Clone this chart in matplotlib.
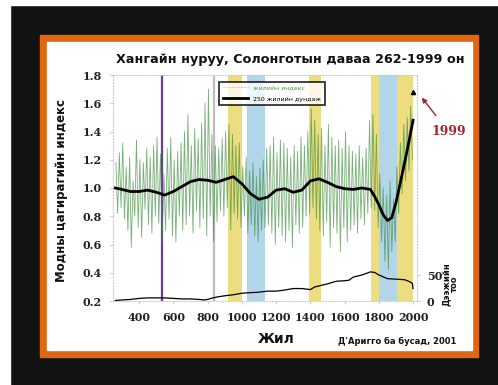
import numpy as np
import matplotlib
matplotlib.use('Agg')
import matplotlib.pyplot as plt
from matplotlib.patches import Rectangle
from matplotlib.lines import Line2D

# annual ring-width index, read every 10 years (265..1995)
index_years = np.arange(265, 2000, 10)
index_values = [
    1.18, 0.82, 1.25, 0.86, 1.32, 0.78, 1.15, 0.70, 1.22, 0.58,
    1.05, 0.80, 1.34, 0.72, 1.20, 0.65, 1.18, 0.85, 1.28, 0.74,
    1.22, 0.68, 1.30, 0.80, 1.36, 0.75, 1.24, 0.62, 1.10, 0.70,
    1.28, 0.78, 1.36, 0.66, 1.20, 0.62, 1.26, 0.80, 1.32, 0.70,
    1.40, 0.74, 1.52, 0.80, 1.30, 0.68, 1.42, 0.84, 1.35, 0.72,
    1.46, 0.78, 1.60, 0.66, 1.70, 0.80, 1.38, 0.62, 1.30, 0.76,
    1.28, 0.84, 1.35, 0.80, 1.40, 0.86, 1.45, 0.70, 1.38, 0.82,
    1.30, 0.78, 1.32, 0.72, 1.15, 0.80, 1.22, 0.68, 1.12, 0.74,
    1.18, 0.66, 1.08, 0.62, 1.14, 0.70, 1.20, 0.72, 1.28, 0.74,
    1.30, 0.68, 1.36, 0.60, 1.25, 0.72, 1.34, 0.66, 1.32, 0.62,
    1.28, 0.70, 1.22, 0.58, 1.30, 0.74, 1.26, 0.68, 1.36, 0.72,
    1.30, 0.80, 1.40, 0.82, 1.56, 0.86, 1.48, 0.78, 1.38, 0.70,
    1.42, 0.66, 1.30, 0.76, 1.45, 0.58, 1.36, 0.72, 1.30, 0.68,
    1.34, 0.55, 1.28, 0.72, 1.40, 0.62, 1.30, 0.70, 1.26, 0.74,
    1.24, 0.68, 1.30, 0.78, 1.22, 0.74, 1.28, 0.82, 1.48, 0.86,
    1.52, 0.84, 1.38, 0.72, 1.10, 0.62, 1.00, 0.48, 0.95, 0.42,
    1.05, 0.55, 0.92, 0.62, 1.15, 0.82, 1.32, 0.96, 1.45, 1.05,
    1.50, 1.12, 1.58, 1.20,
]

# 250-year smoothing
mean_years = [262, 300, 350, 400, 450, 500, 550, 600, 650, 700, 750, 800, 850,
              900, 950, 1000, 1050, 1100, 1150, 1200, 1250, 1300, 1350, 1400,
              1450, 1500, 1550, 1600, 1650, 1700, 1750, 1775, 1800, 1825, 1850,
              1875, 1900, 1925, 1950, 1975, 1999]
mean_values = [1.00, 0.99, 0.975, 0.975, 0.985, 0.97, 0.95, 0.975, 1.01, 1.045,
               1.06, 1.055, 1.04, 1.06, 1.08, 1.03, 0.96, 0.92, 0.935, 0.985,
               0.995, 0.97, 0.985, 1.05, 1.065, 1.04, 1.01, 0.995, 0.99, 1.0,
               0.99, 0.94, 0.88, 0.81, 0.77, 0.79, 0.90, 1.04, 1.18, 1.33, 1.48]

# sample depth (number of samples)
depth_years = [262, 300, 350, 400, 450, 500, 550, 600, 650, 700, 750, 780, 800,
               830, 860, 900, 950, 1000, 1050, 1100, 1150, 1200, 1250, 1300,
               1350, 1400, 1425, 1450, 1500, 1550, 1600, 1625, 1650, 1700, 1750,
               1775, 1800, 1850, 1900, 1950, 1980, 1995, 1999]
depth_values = [1, 2, 3, 5, 6, 6, 6, 5, 4, 4, 3, 2, 3, 6, 8, 10, 12, 15, 16, 17,
                19, 19, 21, 24, 24, 22, 27, 29, 33, 38, 39, 40, 46, 50, 56, 55,
                50, 43, 42, 41, 37, 34, 24]

warm_periods = [(920, 1000), (1390, 1460), (1755, 1802), (1907, 2000)]
cold_periods = [(1030, 1135), (1802, 1907)]
event_years = [(536, '#6a3d9a'), (840, '#bdbdbd')]

fig = plt.figure(figsize=(4.98, 3.85), dpi=100, facecolor='#121212')
# screenshot margins and orange frame
fig.add_artist(Rectangle((0, 0), 10/498, 1, transform=fig.transFigure, color='white', zorder=0))
fig.add_artist(Rectangle((0, 1-5/385), 1, 5/385, transform=fig.transFigure, color='white', zorder=0))
fig.add_artist(Rectangle((40/498, 1-357/385), 438/498, 322/385, transform=fig.transFigure,
                         color='#e0660f', zorder=0))
fig.add_artist(Rectangle((47/498, 1-350/385), 425/498, 308/385, transform=fig.transFigure,
                         color='white', zorder=0))

ax = fig.add_axes([113/498, 1-301/385, 304/498, 226/385])
ax.set_facecolor('white')

for a, b in warm_periods:
    ax.axvspan(a, b, color='#ebdd80', lw=0, zorder=1)
for a, b in cold_periods:
    ax.axvspan(a, b, color='#b3d5ea', lw=0, zorder=1)
for yr, c in event_years:
    ax.axvline(yr, color=c, lw=1.6, zorder=2)

ax.plot(index_years, index_values, color='#3f8f3f', lw=0.6, alpha=0.7, zorder=3)
ax.plot(mean_years, mean_values, color='black', lw=2.0, zorder=5)
ax.plot([1999], [1.68], marker='^', color='black', ms=3, zorder=6)

ax.set_xlim(248, 2022)
ax.set_ylim(0.2, 1.8)
ax.set_xticks(range(400, 2001, 200))
ax.set_yticks([0.2, 0.4, 0.6, 0.8, 1.0, 1.2, 1.4, 1.6, 1.8])
ax.set_yticklabels(['0.2', '0.4', '0.6', '0.8', '1.0', '1.2', '1.4', '1.6', '1.8'])
for lab in ax.get_xticklabels() + ax.get_yticklabels():
    lab.set_fontfamily('DejaVu Serif')
    lab.set_fontweight('bold')
    lab.set_fontsize(8)
    lab.set_color('#222222')
ax.tick_params(length=2, color='#cccccc', pad=6)
for s in ax.spines.values():
    s.set_color('#cccccc')
    s.set_linestyle(':')
    s.set_linewidth(0.8)

ax2 = ax.twinx()
ax2.plot(depth_years, depth_values, color='black', lw=0.9, zorder=4)
ax2.set_ylim(0, 435)
ax2.set_yticks([0, 50])
for lab in ax2.get_yticklabels():
    lab.set_fontfamily('DejaVu Serif')
    lab.set_fontweight('bold')
    lab.set_fontsize(8)
    lab.set_color('#222222')
ax2.tick_params(length=2, color='#cccccc', pad=5)
for s in ax2.spines.values():
    s.set_visible(False)

handles = [Line2D([], [], color='#7fb87f', lw=0.6, ls=':'),
           Line2D([], [], color='black', lw=2)]
leg = ax.legend(handles, ['жилийн индекс', '250 жилийн дундаж'], loc='upper left',
                bbox_to_anchor=(0.34, 0.985), fontsize=4.5, frameon=True, fancybox=False,
                handlelength=4, borderpad=0.6, labelspacing=0.9)
leg.get_frame().set_edgecolor('black')
leg.get_frame().set_linewidth(1.3)
leg.get_texts()[0].set_color('#4c9a4c')
leg.set_zorder(10)

ax.annotate('1999', xy=(2050, 1.64), xytext=(2205, 1.40), color='#a3262a',
            fontsize=9, fontweight='bold', family='DejaVu Serif', ha='center', va='center',
            annotation_clip=False,
            arrowprops=dict(arrowstyle='-|>', color='#a3262a', lw=1.0, shrinkA=6, shrinkB=0,
                            mutation_scale=7))

fig.text(290/498, 1-60/385, 'Хангайн нуруу, Солонготын даваа 262-1999 он',
         ha='center', va='center', fontsize=9.2, fontweight='bold', color='#111111')
fig.text(62/498, 1-190/385, 'Модны цагирагийн индекс', rotation=90, ha='center',
         va='center', fontsize=8.5, fontweight='bold', color='#111111')
fig.text(276/498, 1-339/385, 'Жил', ha='center', va='center', fontsize=10,
         fontweight='bold', color='#111111')
fig.text(450/498, 1-284/385, 'Дээжийн\nтоо', rotation=90, ha='center', va='center',
         fontsize=6, fontweight='bold', color='#111111', linespacing=0.9)
fig.text(397/498, 1-341/385, "Д'Ариггo ба бусад, 2001", ha='center', va='center',
         fontsize=6, fontweight='bold', color='#111111')

fig.savefig('out.png', dpi=100, facecolor=fig.get_facecolor())
